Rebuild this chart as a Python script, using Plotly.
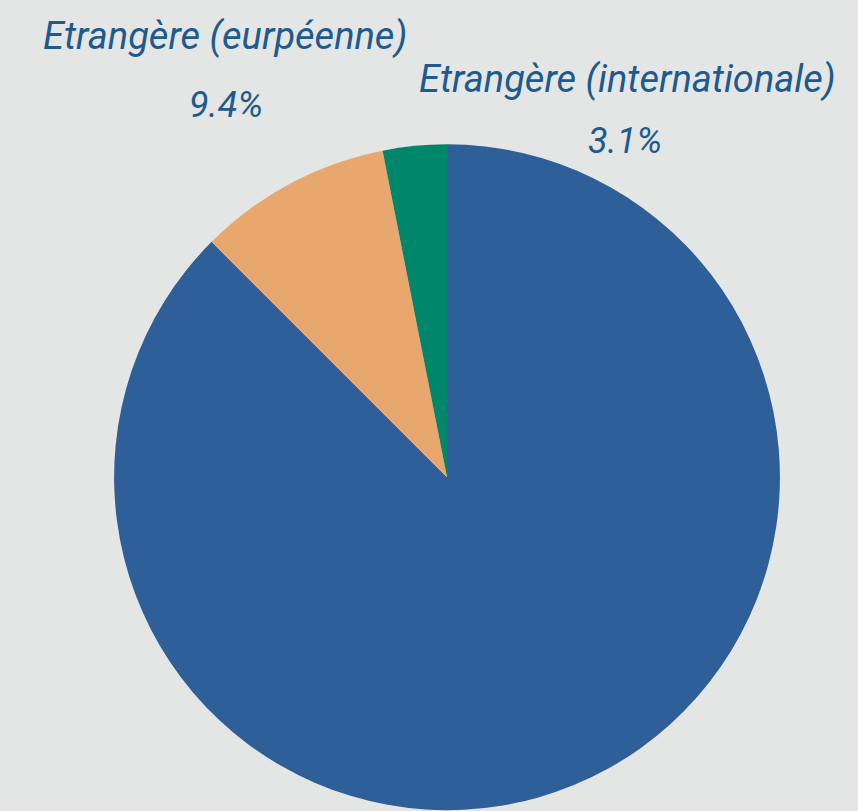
import plotly.graph_objects as go

# slice data (clockwise from 12 o'clock)
labels = ["Française", "Etrangère (eurpéenne)", "Etrangère (internationale)"]
values = [87.5, 9.4, 3.1]
colors = ["#2f5f98", "#e8a76c", "#00876b"]
show_label = [False, True, True]

BG = "#e4e6e5"
TEXT = "#1d5a8f"
FONT = "Roboto"

fig = go.Figure(
    go.Pie(
        labels=labels,
        values=values,
        marker=dict(colors=colors, line=dict(width=0)),
        sort=False,
        direction="clockwise",
        rotation=0,
        textinfo="none",
        hoverinfo="label+percent",
        domain=dict(x=[0.042, 1.0], y=[0.001, 0.822]),
        showlegend=False,
    )
)

# hand placed labels for the small slices
label_pos = {
    "Etrangère (eurpéenne)": ((225, 36), (226, 105)),
    "Etrangère (internationale)": ((627, 79), (625, 141)),
}
for name, val, show in zip(labels, values, show_label):
    if not show:
        continue
    (nx, ny), (px, py) = label_pos[name]
    fig.add_annotation(
        x=nx / 858, y=1 - ny / 811, xref="paper", yref="paper",
        xanchor="center", yanchor="middle",
        text=f"<i>{name}</i>", showarrow=False,
        font=dict(family=FONT, size=38, color=TEXT),
    )
    fig.add_annotation(
        x=px / 858, y=1 - py / 811, xref="paper", yref="paper",
        xanchor="center", yanchor="middle",
        text=f"<i>{val:.1f}%</i>", showarrow=False,
        font=dict(family=FONT, size=36, color=TEXT),
    )

fig.update_layout(
    width=858,
    height=811,
    margin=dict(l=0, r=0, t=0, b=0),
    paper_bgcolor=BG,
    plot_bgcolor=BG,
)

fig.write_html(
    "out.html",
    config={"displayModeBar": False},
    post_script="document.body.style.margin='0';",
)
